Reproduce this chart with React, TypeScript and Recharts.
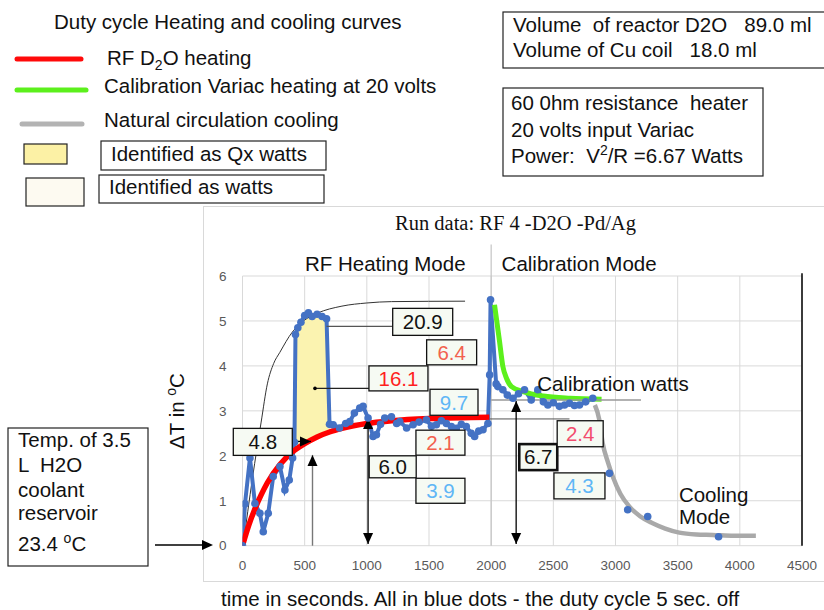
import React from "react";
import {
  ComposedChart,
  Line,
  Area,
  XAxis,
  YAxis,
  CartesianGrid,
  ReferenceLine,
  ReferenceDot,
} from "recharts";

const SANS = "'Liberation Sans', Arial, Helvetica, sans-serif";
const SERIF = "'Liberation Serif', 'Times New Roman', serif";

// measured ΔT (blue dots), RF heating then calibration
const blueTime = [
  -10, 0, 20, 60, 100, 140, 167, 207, 247, 301, 341, 376, 403, 418, 426, 445, 470, 500, 530, 560, 600,
  640, 676, 700, 729, 780, 830, 863, 900, 943, 970, 1010, 1050, 1077, 1110, 1144, 1198, 1240, 1265,
  1320, 1372, 1420, 1479, 1520, 1559, 1600, 1640, 1680, 1720, 1760, 1800, 1840, 1867, 1900, 1934,
  1974, 1988, 1995, 2040, 2054, 2094, 2130, 2175, 2220, 2268, 2322, 2375, 2420, 2456, 2500, 2549,
  2590, 2630, 2670, 2710, 2760, 2817,
];
const blueDeltaT = [
  0, 0, 0.93, 1.95, 0.94, 0.72, 0.31, 0.72, 1.54, 1.76, 1.24, 1.46, 1.95, 2.3, 4.7, 4.85, 4.97, 5.12, 5.18, 5.1, 5.15,
  5.1, 5.05, 2.7, 2.69, 2.62, 2.72, 2.76, 2.95, 3.06, 3.1, 2.84, 2.43, 2.47, 2.7, 2.84, 2.87, 2.72, 2.76,
  2.62, 2.69, 2.75, 2.8, 2.66, 2.69, 2.78, 2.72, 2.65, 2.61, 2.7, 2.65, 2.5, 2.43, 2.55, 2.58,
  2.72, 3.8, 5.47, 3.6, 3.54, 3.47, 3.35, 3.28, 3.38, 3.47, 3.24, 3.47, 3.2, 3.13, 3.18, 3.1,
  3.13, 3.17, 3.12, 3.13, 3.2, 3.28,
];

// blue dots during natural cooling
const coolTime = [2951, 3098, 3259, 3829];
const coolDeltaT = [1.61, 0.8, 0.65, 0.2];

// red RF D2O heating curve
const rfTime = [0, 50, 100, 150, 200, 300, 400, 500, 600, 700, 800, 1000, 1200, 1500, 1985];
const rfDeltaT = [0, 0.45, 0.82, 1.13, 1.4, 1.8, 2.08, 2.27, 2.42, 2.53, 2.61, 2.72, 2.78, 2.83, 2.86];

// green calibration Variac heating curve
const calTime = [2027, 2067, 2094, 2124, 2164, 2258, 2419, 2633, 2888];
const calDeltaT = [5.36, 4.55, 3.99, 3.72, 3.54, 3.43, 3.33, 3.28, 3.26];

// grey natural circulation cooling curve
const coolFitTime = [2834, 2870, 2897, 2940, 2978, 3040, 3112, 3200, 3299, 3400, 3513, 3650, 3781, 3950, 4129];
const coolFitDeltaT = [3.13, 2.8, 2.28, 1.85, 1.54, 1.15, 0.87, 0.65, 0.5, 0.38, 0.29, 0.25, 0.24, 0.22, 0.22];

// thin black envelope over the RF burst
const envTime = [5, 80, 150, 200, 250, 300, 400, 500, 600, 800, 1000, 1200, 1790];
const envDeltaT = [0, 1.5, 2.75, 3.6, 4.05, 4.3, 4.75, 5.02, 5.17, 5.33, 5.4, 5.43, 5.44];

// Qx band (yellow)
const qxTime = [421, 450, 500, 560, 640, 676, 700];
const qxLow = [2.1, 2.16, 2.25, 2.35, 2.45, 2.5, 2.55];
const qxHigh = [4.75, 4.95, 5.08, 5.12, 5.1, 5.05, 2.6];

const timeTicks = [0, 500, 1000, 1500, 2000, 2500, 3000, 3500, 4000, 4500];
const deltaTicks = [0, 1, 2, 3, 4, 5, 6];

// boxed watt figures
const boxValues = ["20.9", "6.4", "16.1", "9.7", "2.1", "6.0", "3.9", "4.8", "6.7", "2.4", "4.3"];
const boxLayout = [
  { t: 1208, dT: 5.28, w: 60, h: 27, color: "#111" },
  { t: 1481, dT: 4.58, w: 50, h: 25, color: "#f2614e" },
  { t: 1017, dT: 4.0, w: 59, h: 25, color: "#ff1f1f" },
  { t: 1508, dT: 3.48, w: 48, h: 26, color: "#5fb6f6" },
  { t: 1395, dT: 2.57, w: 49, h: 25, color: "#f2614e" },
  { t: 1019, dT: 2.0, w: 47, h: 22, color: "#111" },
  { t: 1395, dT: 1.5, w: 49, h: 25, color: "#5fb6f6" },
  { t: -74, dT: 2.61, w: 59, h: 27, color: "#111" },
  { t: 2226, dT: 2.26, w: 38, h: 26, color: "#111", thick: true },
  { t: 2531, dT: 2.78, w: 46, h: 26, color: "#f24d6e" },
  { t: 2505, dT: 1.62, w: 51, h: 26, color: "#5fb6f6" },
];

const zip = (t: number[], v: number[]) => t.map((x, i) => ({ t: x, v: v[i] }));
const blueRows = zip(blueTime, blueDeltaT);
const coolRows = zip(coolTime, coolDeltaT);
const rfRows = zip(rfTime, rfDeltaT);
const calRows = zip(calTime, calDeltaT);
const coolFitRows = zip(coolFitTime, coolFitDeltaT);
const envRows = zip(envTime, envDeltaT);
const qxRows = qxTime.map((t, i) => ({ t, band: [qxLow[i], qxHigh[i]] }));

function head(x: number, y: number, dx: number, dy: number, fill: string) {
  const len = Math.hypot(dx, dy) || 1;
  const ux = dx / len;
  const uy = dy / len;
  const L = 11;
  const W = 5;
  const bx = x - ux * L;
  const by = y - uy * L;
  return (
    <polygon
      points={`${x},${y} ${bx - uy * W},${by + ux * W} ${bx + uy * W},${by - ux * W}`}
      fill={fill}
    />
  );
}

const arrow =
  (start: boolean, end: boolean, color = "#000", width = 1.3, dotStart = false) =>
  (p: any) => {
    const { x1, y1, x2, y2 } = p;
    return (
      <g>
        <line x1={x1} y1={y1} x2={x2} y2={y2} stroke={color} strokeWidth={width} />
        {end && head(x2, y2, x2 - x1, y2 - y1, "#000")}
        {start && head(x1, y1, x1 - x2, y1 - y2, "#000")}
        {dotStart && <circle cx={x1} cy={y1} r={1.8} fill="#000" />}
      </g>
    );
  };

const boxShape = (label: string, w: number, h: number, color: string, thick?: boolean) => (p: any) => {
  const { cx, cy } = p;
  return (
    <g>
      <rect
        x={cx}
        y={cy}
        width={w}
        height={h}
        fill="#f6faf3"
        stroke="#111"
        strokeWidth={thick ? 2.6 : 1.3}
      />
      <text
        x={cx + w / 2}
        y={cy + h / 2 + 7.3}
        textAnchor="middle"
        fontSize={20.5}
        fontFamily={SANS}
        fill={color}
      >
        {label}
      </text>
    </g>
  );
};

const textShape = (lines: string[], lineGap = 22.5) => (p: any) => {
  const { cx, cy } = p;
  return (
    <text x={cx} y={cy} fontSize={20.5} fontFamily={SANS} fill="#111">
      {lines.map((s, i) => (
        <tspan key={i} x={cx} dy={i === 0 ? 0 : lineGap}>
          {s}
        </tspan>
      ))}
    </text>
  );
};

const legendText = { fontSize: 20.5, fontFamily: SANS, fill: "#111", style: { whiteSpace: "pre" as const } };

function Overlay() {
  return (
    <svg width={824} height={610} style={{ position: "absolute", left: 0, top: 0, pointerEvents: "none" }}>
      <text x={54} y={29} {...legendText}>Duty cycle Heating and cooling curves</text>

      <line x1={17} y1={59} x2={81} y2={59} stroke="#ff0a0a" strokeWidth={5} strokeLinecap="round" />
      <text x={107} y={65} {...legendText}>
        RF D<tspan dy={5} fontSize={14}>2</tspan>
        <tspan dy={-5}>O heating</tspan>
      </text>
      <line x1={17} y1={90} x2={86} y2={90} stroke="#5cf01c" strokeWidth={5} strokeLinecap="round" />
      <text x={104} y={93} {...legendText}>Calibration Variac heating at 20 volts</text>
      <line x1={22} y1={124} x2={82} y2={124} stroke="#b3b3b3" strokeWidth={5} strokeLinecap="round" />
      <text x={104} y={127} {...legendText}>Natural circulation cooling</text>

      <rect x={24} y={144} width={43} height={20} fill="#fcf1a5" stroke="#222" strokeWidth={1.2} />
      <rect x={101} y={141} width={225} height={29} fill="#fff" stroke="#222" strokeWidth={1.2} />
      <text x={111} y={161} {...legendText}>Identified as Qx watts</text>
      <rect x={26} y={178} width={58} height={28} fill="#fdfaf1" stroke="#222" strokeWidth={1.2} />
      <rect x={99} y={175} width={225} height={28} fill="#fff" stroke="#222" strokeWidth={1.2} />
      <text x={109} y={194} {...legendText}>Identified as watts</text>

      <rect x={503} y={12} width={330} height={56} fill="#fff" stroke="#222" strokeWidth={1.2} />
      <text x={513} y={32} {...legendText}>Volume  of reactor D2O   89.0 ml</text>
      <text x={513} y={57} {...legendText}>Volume of Cu coil   18.0 ml</text>

      <rect x={503} y={88} width={260} height={88} fill="#fff" stroke="#222" strokeWidth={1.2} />
      <text x={511} y={110} {...legendText}>60 0hm resistance  heater</text>
      <text x={511} y={137} {...legendText}>20 volts input Variac</text>
      <text x={511} y={163} {...legendText}>
        Power:  V<tspan dy={-8} fontSize={14}>2</tspan>
        <tspan dy={8}>/R =6.67 Watts</tspan>
      </text>

      <rect x={8} y={428} width={140} height={138} fill="#fff" stroke="#222" strokeWidth={1.2} />
      <text x={18} y={447} {...legendText}>Temp. of 3.5</text>
      <text x={18} y={472} {...legendText}>L  H2O</text>
      <text x={18} y={497} {...legendText}>coolant</text>
      <text x={18} y={520} {...legendText}>reservoir</text>
      <text x={18} y={551} {...legendText}>
        23.4 <tspan dy={-8} fontSize={14}>o</tspan>
        <tspan dy={8}>C</tspan>
      </text>
      <line x1={155} y1={545} x2={203} y2={545} stroke="#000" strokeWidth={1.3} />
      {head(213, 545, 1, 0, "#000")}

      <text x={395} y={230} fontSize={20.5} fontFamily={SERIF} fill="#111">
        Run data: RF 4 -D2O -Pd/Ag
      </text>

      <text
        x={0}
        y={0}
        transform="translate(184 411) rotate(-90)"
        textAnchor="middle"
        fontSize={20.5}
        fontFamily={SANS}
        fill="#111"
      >
        ΔT in <tspan dy={-8} fontSize={14}>o</tspan>
        <tspan dy={8}>C</tspan>
      </text>

      <text x={221} y={606} {...legendText}>
        time in seconds. All in blue dots - the duty cycle 5 sec. off
      </text>
    </svg>
  );
}

export default function App() {
  const tickStyle = { fill: "#595959", fontSize: 13.5, fontFamily: SANS };
  return (
    <div style={{ position: "absolute", left: 0, top: 0, width: 824, height: 610, background: "#fff", overflow: "hidden" }}>
      <div
        style={{
          position: "absolute",
          left: 203,
          top: 206,
          width: 640,
          height: 376,
          border: "1px solid #d9d9d9",
          boxSizing: "border-box",
        }}
      />
      <div style={{ position: "absolute", left: 0, top: 0 }}>
        <ComposedChart
          width={824}
          height={610}
          margin={{ top: 276, right: 22, bottom: 34.3, left: 212.5 }}
        >
          <CartesianGrid stroke="#d9d9d9" strokeWidth={1} />
          <XAxis
            dataKey="t"
            type="number"
            domain={[0, 4500]}
            ticks={timeTicks}
            allowDataOverflow
            height={30}
            axisLine={false}
            tickLine={false}
            tickMargin={9}
            tick={tickStyle}
          />
          <YAxis
            type="number"
            domain={[0, 6]}
            ticks={deltaTicks}
            allowDataOverflow
            width={30}
            axisLine={false}
            tickLine={false}
            tickMargin={10}
            tick={tickStyle}
          />

          <ReferenceLine
            segment={[{ x: 2000, y: 0 }, { x: 2000, y: 6.7 }]}
            stroke="#c4c4c4"
            strokeWidth={1.2}
            ifOverflow="visible"
          />
          <ReferenceLine
            segment={[{ x: 4500, y: 0 }, { x: 4500, y: 6.06 }]}
            stroke="#000"
            strokeWidth={1.5}
            ifOverflow="visible"
          />

          <Area
            data={qxRows}
            dataKey="band"
            type="linear"
            fill="#fbf3b0"
            fillOpacity={1}
            stroke="#555"
            strokeWidth={1}
            strokeDasharray="7 4"
            isAnimationActive={false}
          />
          <Line
            data={envRows}
            dataKey="v"
            type="monotone"
            stroke="#333"
            strokeWidth={1}
            dot={false}
            isAnimationActive={false}
          />
          <Line
            data={blueRows}
            dataKey="v"
            type="linear"
            stroke="#4472c4"
            strokeWidth={4}
            dot={{ r: 3.8, fill: "#4472c4", stroke: "none" }}
            isAnimationActive={false}
          />
          <Line
            data={coolRows}
            dataKey="v"
            type="linear"
            stroke="none"
            dot={{ r: 3.8, fill: "#4472c4", stroke: "none" }}
            isAnimationActive={false}
          />
          <Line
            data={rfRows}
            dataKey="v"
            type="monotone"
            stroke="#ff0000"
            strokeWidth={5.5}
            dot={false}
            isAnimationActive={false}
          />
          <Line
            data={calRows}
            dataKey="v"
            type="monotone"
            stroke="#5cf01c"
            strokeWidth={5}
            dot={false}
            isAnimationActive={false}
          />
          <Line
            data={coolFitRows}
            dataKey="v"
            type="monotone"
            stroke="#a9a9a9"
            strokeWidth={4.5}
            dot={false}
            isAnimationActive={false}
          />

          {/* level lines and leaders */}
          <ReferenceLine
            segment={[{ x: 2000, y: 3.24 }, { x: 3205, y: 3.24 }]}
            stroke="#999"
            strokeWidth={1.5}
            ifOverflow="visible"
          />
          <ReferenceLine
            segment={[{ x: 1990, y: 2.82 }, { x: 2630, y: 2.82 }]}
            stroke="#555"
            strokeWidth={1}
            ifOverflow="visible"
          />
          <ReferenceLine
            segment={[{ x: 676, y: 4.88 }, { x: 1208, y: 4.88 }]}
            stroke="#555"
            strokeWidth={1.2}
            ifOverflow="visible"
          />
          <ReferenceLine
            segment={[{ x: 583, y: 3.5 }, { x: 1017, y: 3.5 }]}
            ifOverflow="visible"
            shape={arrow(false, false, "#222", 1.2, true)}
          />
          <ReferenceLine
            segment={[{ x: 403, y: 2.32 }, { x: 551, y: 2.32 }]}
            ifOverflow="visible"
            shape={arrow(false, true, "#000", 1.3)}
          />
          <ReferenceLine
            segment={[{ x: 563, y: 0 }, { x: 563, y: 2.02 }]}
            ifOverflow="visible"
            shape={arrow(false, true, "#777", 1.4)}
          />
          <ReferenceLine
            segment={[{ x: 1010, y: 0.04 }, { x: 1010, y: 2.84 }]}
            ifOverflow="visible"
            shape={arrow(true, true, "#000", 1.3)}
          />
          <ReferenceLine
            segment={[{ x: 2201, y: 0.04 }, { x: 2201, y: 3.22 }]}
            ifOverflow="visible"
            shape={arrow(true, true, "#000", 1.3)}
          />

          {boxLayout.map((b, i) => (
            <ReferenceDot
              key={i}
              x={b.t}
              y={b.dT}
              ifOverflow="visible"
              shape={boxShape(boxValues[i], b.w, b.h, b.color, b.thick)}
            />
          ))}

          <ReferenceDot x={502} y={6.11} ifOverflow="visible" shape={textShape(["RF Heating Mode"])} />
          <ReferenceDot x={2084} y={6.11} ifOverflow="visible" shape={textShape(["Calibration Mode"])} />
          <ReferenceDot x={2370} y={3.44} ifOverflow="visible" shape={textShape(["Calibration watts"])} />
          <ReferenceDot x={3510} y={0.98} ifOverflow="visible" shape={textShape(["Cooling", "Mode"])} />
        </ComposedChart>
      </div>
      <Overlay />
    </div>
  );
}
